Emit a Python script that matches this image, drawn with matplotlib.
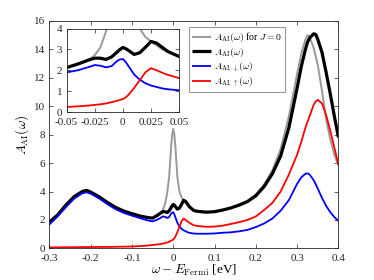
import matplotlib
matplotlib.use("Agg")
import matplotlib.pyplot as plt

plt.rcParams['font.family'] = 'serif'
plt.rcParams['font.serif'] = ['Liberation Serif', 'DejaVu Serif']
plt.rcParams['mathtext.fontset'] = 'cm'
plt.rcParams['axes.unicode_minus'] = False

# energy grid (eV)
omega = [-0.30, -0.28, -0.26, -0.24, -0.22, -0.21, -0.20, -0.18, -0.16, -0.14,
         -0.12, -0.10, -0.08, -0.06, -0.05, -0.04, -0.035, -0.03, -0.025, -0.02,
         -0.015, -0.01, -0.005, -0.0025, 0.0, 0.0025, 0.005, 0.01, 0.015, 0.02,
         0.025, 0.03, 0.035, 0.04, 0.05, 0.06, 0.08, 0.10, 0.12, 0.14,
         0.16, 0.18, 0.20, 0.22, 0.24, 0.26, 0.28, 0.30, 0.31, 0.32,
         0.325, 0.33, 0.34, 0.345, 0.35, 0.36, 0.37, 0.38, 0.39, 0.40]

A_J0 = [1.75, 2.30, 2.98, 3.58, 3.96, 4.00, 3.92, 3.60, 3.20, 2.85,
        2.58, 2.40, 2.25, 2.14, 2.12, 2.28, 2.38, 2.50, 2.72, 3.10,
        3.85, 5.00, 7.20, 8.05, 8.40, 8.05, 7.20, 5.00, 4.00, 3.60,
        3.38, 3.20, 3.00, 2.88, 2.66, 2.58, 2.52, 2.56, 2.68, 2.85,
        3.08, 3.35, 3.80, 4.50, 5.50, 7.00, 9.30, 12.30, 13.70, 14.70,
        15.00, 14.90, 14.10, 13.50, 12.90, 11.10, 9.10, 7.70, 6.60, 5.80]

A_tot = [1.85, 2.35, 3.05, 3.64, 4.01, 4.08, 3.96, 3.64, 3.24, 2.89,
         2.63, 2.44, 2.27, 2.16, 2.13, 2.30, 2.40, 2.50, 2.58, 2.58,
         2.52, 2.64, 2.88, 3.00, 3.09, 3.04, 2.95, 2.76, 2.84, 3.10,
         3.38, 3.30, 3.10, 2.90, 2.66, 2.60, 2.55, 2.58, 2.70, 2.85,
         3.05, 3.30, 3.70, 4.35, 5.25, 6.50, 8.50, 11.30, 12.80, 14.00,
         14.50, 14.80, 15.10, 15.05, 14.70, 13.80, 12.40, 10.90, 9.30, 7.80]

A_dn = [1.68, 2.25, 2.90, 3.50, 3.88, 3.94, 3.85, 3.52, 3.12, 2.76,
        2.50, 2.30, 2.12, 1.95, 1.90, 2.00, 2.08, 2.16, 2.25, 2.22,
        2.14, 2.20, 2.45, 2.52, 2.54, 2.40, 2.20, 1.80, 1.55, 1.38,
        1.27, 1.20, 1.13, 1.09, 1.04, 1.03, 1.03, 1.05, 1.10, 1.13,
        1.20, 1.30, 1.50, 1.75, 2.10, 2.65, 3.40, 4.55, 5.00, 5.25,
        5.28, 5.20, 4.80, 4.50, 4.20, 3.55, 3.00, 2.55, 2.20, 1.92]

A_up = [0.07, 0.07, 0.08, 0.08, 0.09, 0.09, 0.09, 0.10, 0.10, 0.11,
        0.12, 0.13, 0.16, 0.20, 0.24, 0.27, 0.29, 0.31, 0.34, 0.37,
        0.41, 0.47, 0.54, 0.58, 0.62, 0.70, 0.82, 1.15, 1.52, 1.90,
        2.10, 2.00, 1.88, 1.78, 1.62, 1.57, 1.52, 1.53, 1.60, 1.72,
        1.85, 2.00, 2.25, 2.70, 3.20, 4.00, 5.20, 6.60, 7.50, 8.50,
        8.90, 9.30, 10.10, 10.35, 10.45, 10.20, 9.40, 8.30, 7.10, 5.87]

labels = [r'$A_{\mathrm{AI}}(\omega)$ for $J=0$', r'$A_{\mathrm{AI}}(\omega)$',
          r'$A_{\mathrm{AI},\downarrow}(\omega)$', r'$A_{\mathrm{AI},\uparrow}(\omega)$']
colors = [(0.6, 0.6, 0.6), 'black', (0, 0, 1), (1, 0, 0)]
widths = [1.4, 2.3, 1.3, 1.3]
series = [A_J0, A_tot, A_dn, A_up]

main_xticks = [-0.3, -0.2, -0.1, 0, 0.1, 0.2, 0.3, 0.4]
main_xticklabels = ['-0.3', '-0.2', '-0.1', '0', '0.1', '0.2', '0.3', '0.4']
main_yticks = [0, 2, 4, 6, 8, 10, 12, 14, 16]
inset_xticks = [-0.05, -0.025, 0, 0.025, 0.05]
inset_xticklabels = ['-0.05', '-0.025', '0', '0.025', '0.05']
inset_yticks = [0, 1, 2, 3, 4]

fig = plt.figure(figsize=(3.74, 2.80), dpi=100)
ax = fig.add_axes([0.132, 0.113, 0.773, 0.812])
edge = (0.15, 0.15, 0.15)

def style(a, fs):
    for s in a.spines.values():
        s.set_color(edge)
        s.set_linewidth(0.6)
    a.tick_params(direction='in', top=True, right=True, length=3, width=0.5,
                  colors=edge, labelsize=fs)
    a.tick_params(axis='x', pad=4)
    a.tick_params(axis='y', pad=3)

for y, c, w, l in zip(series, colors, widths, labels):
    ax.plot(omega, y, color=c, lw=w, label=l, solid_capstyle='butt')
ax.set_xlim(-0.3, 0.4)
ax.set_ylim(0, 16)
ax.set_xticks(main_xticks)
ax.set_xticklabels(main_xticklabels)
ax.set_yticks(main_yticks)
style(ax, 8)
ax.set_xlabel(r'$\omega - E_{\mathrm{Fermi}}$ [eV]', fontsize=9.5, labelpad=0)
ax.set_ylabel(r'$A_{\mathrm{AI}}(\omega)$', fontsize=9.5, labelpad=2)

leg = ax.legend(loc='upper left', bbox_to_anchor=(0.483, 0.972), fontsize=7,
                handlelength=2.0, handletextpad=0.3, borderpad=0.3,
                labelspacing=0.15, fancybox=False, framealpha=1,
                edgecolor=(0.6, 0.6, 0.6), borderaxespad=0)
leg.get_frame().set_linewidth(0.8)

ins = fig.add_axes([0.178, 0.60, 0.301, 0.298])
for y, c, w in zip(series, colors, widths):
    ins.plot(omega, y, color=c, lw=w)
ins.set_xlim(-0.05, 0.05)
ins.set_ylim(0, 4)
ins.set_xticks(inset_xticks)
ins.set_xticklabels(inset_xticklabels)
ins.set_yticks(inset_yticks)
style(ins, 8)

fig.savefig('out.png', dpi=100)
